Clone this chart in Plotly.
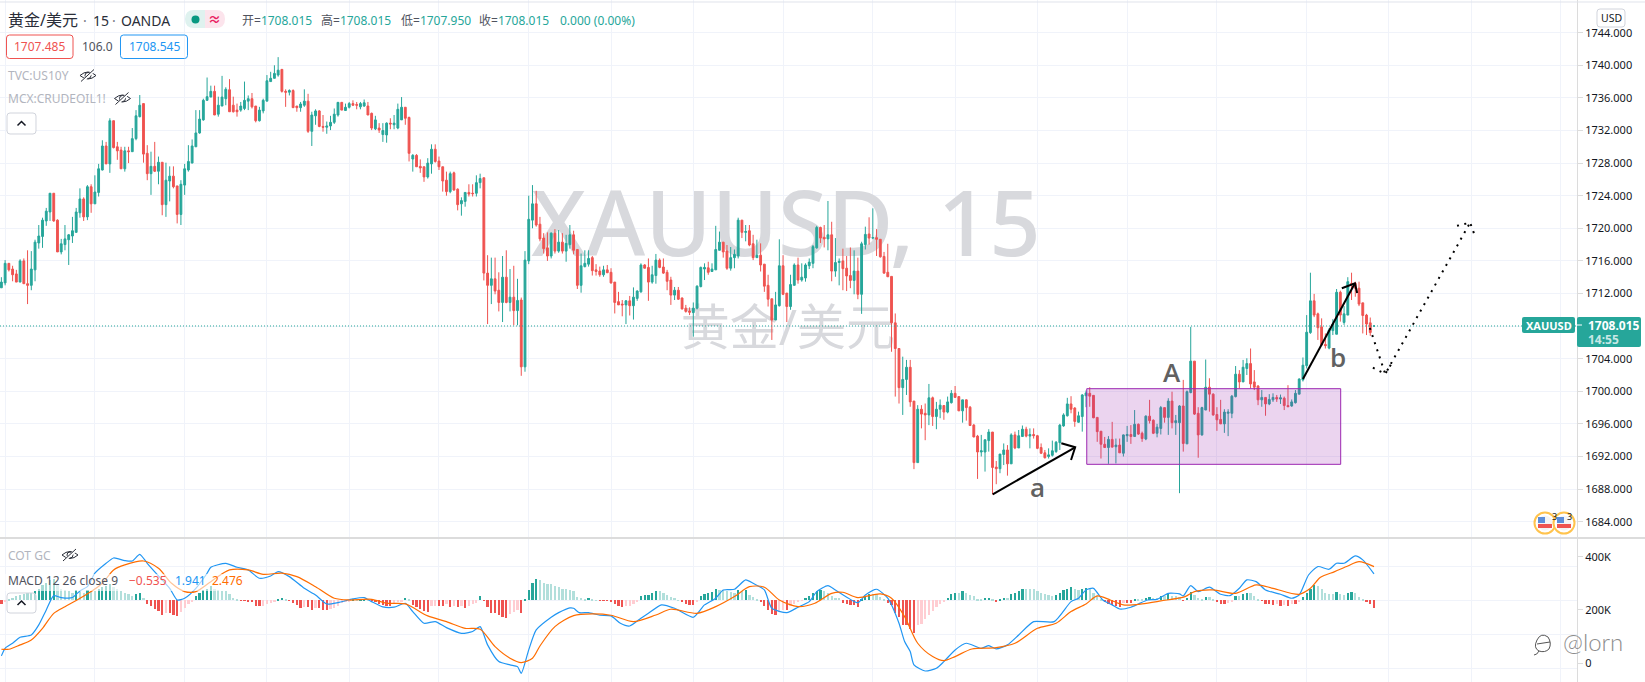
import plotly.graph_objects as go

W, H = 1645, 682
PANE_X = 1577
PANE_Y = 538

opens = [
1712.7,1713.3,1715.7,1715.0,1714.4,1713.4,1716.0,1713.2,1713.0,1714.9,
1718.2,1719.0,1720.9,1722.0,1724.3,1721.0,1717.1,1718.0,1718.6,1719.05,
1719.5,1721.9,1723.6,1721.4,1725.1,1723.0,1724.4,1727.15,1730.1,1727.9,
1733.2,1730.0,1729.6,1727.3,1729.5,1729.4,1731.0,1733.7,1735.3,1729.2,
1726.7,1727.6,1727.0,1728.1,1722.9,1725.8,1726.4,1725.2,1721.7,1725.3,
1727.15,1728.0,1730.0,1731.7,1733.3,1735.7,1736.1,1736.8,1734.0,1735.0,
1735.9,1737.0,1735.1,1734.5,1734.5,1734.7,1735.6,1735.9,1735.0,1733.2,
1734.4,1735.6,1738.0,1738.4,1738.8,1739.5,1736.8,1736.7,1736.9,1735.0,
1734.8,1735.1,1735.6,1731.9,1733.8,1734.4,1732.5,1732.4,1732.55,1733.0,
1733.9,1735.45,1734.45,1734.85,1735.3,1735.2,1734.9,1735.0,1735.0,1734.1,
1732.2,1732.3,1731.5,1731.45,1732.9,1732.7,1732.3,1733.3,1734.85,1733.6,
1728.5,1728.95,1727.6,1727.55,1726.3,1727.9,1729.7,1728.25,1727.55,1725.9,
1724.5,1726.8,1724.8,1723.0,1723.3,1724.4,1724.3,1724.3,1725.6,1726.2,
1714.5,1713.0,1713.8,1712.4,1710.9,1714.0,1710.9,1711.55,1709.9,1711.2,
1703.0,1716.0,1721.0,1723.0,1720.5,1718.8,1717.6,1716.6,1719.4,1717.2,
1718.3,1717.2,1718.0,1719.2,1717.4,1713.0,1715.3,1715.6,1716.4,1714.9,
1714.75,1714.3,1714.9,1714.6,1713.4,1711.0,1710.7,1710.6,1711.1,1710.5,
1711.4,1712.2,1715.5,1715.2,1713.4,1714.2,1716.1,1715.25,1714.6,1713.65,
1711.8,1712.4,1711.45,1710.2,1709.85,1709.65,1710.2,1712.85,1715.0,1715.15,
1714.7,1714.9,1717.3,1718.3,1717.2,1715.1,1716.4,1716.6,1721.0,1719.5,
1719.7,1718.1,1716.4,1716.7,1715.6,1713.0,1711.35,1708.75,1710.5,1715.4,
1712.05,1710.4,1713.0,1715.5,1713.65,1713.9,1715.4,1715.7,1717.6,1720.1,
1718.9,1718.7,1719.2,1714.75,1715.8,1716.0,1715.1,1714.2,1713.6,1714.75,
1711.9,1718.0,1719.3,1718.8,1718.85,1718.65,1716.55,1714.6,1714.1,1708.4,
1705.25,1700.45,1701.45,1702.95,1698.8,1691.25,1697.8,1697.3,1697.1,1699.2,
1696.9,1697.8,1698.25,1697.45,1698.6,1699.75,1699.35,1697.6,1698.95,1698.05,
1695.85,1694.5,1692.55,1692.55,1693.95,1695.0,1690.7,1690.5,1692.25,1692.8,
1691.1,1694.65,1693.05,1694.45,1695.35,1694.5,1694.7,1694.55,1693.1,1692.45,
1692.0,1692.15,1692.6,1693.7,1695.75,1697.0,1698.45,1697.95,1696.2,1696.9,
1699.45,1699.75,1699.5,1696.8,1695.1,1693.5,1693.1,1694.1,1693.2,1693.4,
1692.4,1694.55,1694.7,1694.45,1695.95,1694.85,1694.15,1696.95,1696.45,1694.85,
1695.45,1698.0,1696.8,1698.8,1696.15,1696.15,1698.2,1693.55,1699.85,1703.7,
1697.3,1694.65,1697.7,1700.5,1699.65,1697.15,1696.55,1696.0,1697.3,1697.3,
1699.35,1702.1,1701.15,1702.8,1703.4,1701.15,1700.65,1698.95,1699.25,1698.45,
1698.95,1699.25,1699.05,1699.15,1698.25,1698.2,1698.6,1699.65,1701.4,1703.15,
1707.2,1711.1,1709.5,1707.9,1705.75,1705.3,1707.45,1707.0,1712.15,1708.45,
1709.35,1713.25,1713.25,1712.65,1710.85,1709.35,1708.4,1708.015]
highs = [
1714.0,1716.1,1715.7,1715.4,1714.9,1716.2,1716.3,1717.3,1717.2,1718.6,
1720.4,1721.3,1722.5,1724.3,1724.3,1721.1,1718.7,1720.4,1719.3,1721.4,
1722.5,1724.9,1723.8,1725.3,1725.4,1726.5,1727.9,1730.8,1730.6,1733.5,
1733.2,1730.6,1730.0,1730.0,1730.0,1732.3,1734.5,1736.35,1735.3,1730.2,
1729.4,1730.6,1728.8,1728.1,1728.05,1727.6,1727.6,1725.2,1725.9,1727.9,
1730.2,1730.9,1734.5,1734.5,1735.9,1738.5,1737.5,1737.5,1736.15,1738.7,
1737.3,1738.3,1736.15,1735.3,1735.5,1738.0,1736.3,1736.6,1735.0,1734.9,
1735.9,1738.8,1739.2,1740.0,1741.0,1739.5,1737.05,1737.05,1737.05,1735.0,
1735.5,1737.05,1736.5,1734.3,1734.6,1734.5,1733.9,1733.1,1733.8,1734.7,
1735.5,1735.5,1735.3,1735.5,1735.7,1735.5,1735.5,1735.8,1735.5,1734.2,
1733.8,1732.9,1732.9,1733.0,1733.5,1733.9,1735.3,1736.1,1734.85,1733.7,
1729.1,1729.1,1728.45,1727.55,1728.6,1730.3,1730.3,1728.8,1727.55,1726.95,
1726.95,1726.95,1724.9,1723.8,1724.4,1725.4,1725.4,1726.5,1726.7,1726.2,
1716.7,1716.4,1716.4,1714.6,1716.6,1717.3,1715.0,1715.4,1713.8,1711.5,
1717.2,1724.0,1725.3,1724.6,1721.4,1719.4,1719.5,1719.5,1719.9,1719.8,
1719.4,1719.2,1720.4,1719.7,1717.4,1716.9,1717.3,1717.3,1716.6,1715.6,
1715.3,1715.4,1715.5,1715.1,1713.4,1712.2,1711.2,1711.2,1711.7,1712.75,
1712.4,1715.7,1715.6,1716.3,1715.4,1716.85,1716.3,1716.3,1714.9,1714.05,
1712.8,1712.8,1711.5,1710.6,1710.3,1710.9,1713.0,1715.3,1715.7,1715.9,
1715.7,1720.3,1719.6,1718.3,1717.95,1717.7,1717.4,1721.3,1721.0,1720.4,
1720.4,1719.2,1718.6,1718.15,1715.6,1714.3,1711.35,1712.2,1718.65,1716.7,
1712.05,1714.3,1715.7,1716.4,1715.7,1715.7,1716.3,1717.95,1720.3,1720.2,
1720.4,1723.35,1720.8,1718.8,1716.3,1717.5,1716.6,1717.65,1717.3,1716.4,
1718.35,1720.2,1721.35,1722.45,1719.9,1718.65,1717.1,1718.1,1714.1,1709.55,
1705.25,1704.25,1703.85,1703.85,1698.8,1698.3,1698.3,1698.5,1700.9,1699.35,
1698.7,1699.0,1698.3,1699.35,1700.15,1700.65,1699.35,1698.95,1699.0,1698.2,
1696.0,1694.65,1694.65,1694.1,1695.35,1695.0,1691.45,1692.3,1693.6,1693.4,
1694.85,1695.05,1695.25,1695.8,1695.65,1695.45,1695.45,1694.65,1693.6,1692.8,
1693.0,1693.95,1693.9,1696.0,1697.3,1699.2,1699.4,1698.05,1697.5,1699.65,
1700.1,1700.5,1699.5,1696.8,1695.1,1694.4,1694.5,1696.25,1694.2,1694.2,
1694.7,1695.75,1695.85,1697.7,1696.05,1695.05,1697.05,1698.95,1696.55,1696.0,
1698.2,1698.0,1699.15,1699.95,1697.1,1698.3,1701.4,1700.1,1707.9,1703.7,
1698.05,1698.1,1703.9,1701.6,1699.75,1698.05,1698.95,1697.8,1697.8,1699.55,
1703.1,1702.6,1703.85,1704.05,1705.25,1702.6,1700.75,1700.15,1699.25,1699.65,
1699.75,1699.55,1699.6,1699.35,1700.75,1699.0,1700.15,1701.6,1704.15,1709.35,
1714.55,1711.95,1709.65,1708.95,1707.1,1707.75,1708.85,1712.55,1712.35,1710.45,
1714.0,1714.55,1713.45,1713.45,1710.85,1709.5,1709.05,1708.015]
lows = [
1712.7,1713.0,1714.7,1713.5,1713.4,1713.4,1713.2,1710.7,1712.4,1713.5,
1717.5,1717.6,1720.3,1720.9,1720.8,1717.1,1716.8,1717.3,1715.5,1718.2,
1719.5,1721.3,1720.9,1721.0,1721.9,1723.0,1723.9,1727.1,1727.9,1726.8,
1729.8,1728.4,1727.3,1726.95,1728.0,1729.4,1730.8,1733.6,1728.05,1725.9,
1724.1,1726.9,1725.4,1721.6,1721.4,1723.3,1724.9,1720.6,1720.4,1724.1,
1726.95,1728.0,1730.0,1731.6,1733.2,1735.65,1736.1,1733.9,1733.7,1735.0,
1735.1,1734.3,1734.2,1733.7,1734.3,1734.5,1734.5,1734.7,1733.0,1733.1,
1734.1,1735.6,1738.0,1738.4,1738.6,1736.65,1734.9,1736.3,1734.8,1734.3,
1734.3,1734.9,1731.7,1730.1,1732.7,1732.4,1731.85,1731.6,1732.05,1732.8,
1733.7,1734.5,1734.45,1734.7,1735.0,1734.6,1734.6,1734.9,1733.9,1732.05,
1732.05,1731.7,1730.6,1730.5,1732.15,1732.15,1732.15,1733.3,1732.7,1728.2,
1726.95,1727.55,1726.8,1725.7,1726.1,1726.7,1728.05,1727.15,1724.5,1724.0,
1724.3,1724.6,1722.2,1721.55,1722.65,1723.9,1723.9,1723.9,1724.9,1713.6,
1708.25,1710.7,1711.9,1709.8,1708.5,1710.8,1709.8,1708.1,1708.1,1701.9,
1702.4,1715.6,1720.0,1720.2,1718.4,1716.9,1716.0,1716.3,1716.9,1717.0,
1716.9,1715.9,1717.5,1716.8,1712.55,1712.1,1715.2,1715.3,1714.2,1714.2,
1714.05,1714.05,1714.5,1713.2,1709.55,1710.6,1709.2,1708.25,1709.3,1708.8,
1711.1,1712.1,1715.1,1711.1,1713.2,1713.2,1715.1,1714.4,1712.4,1710.6,
1711.2,1711.2,1710.05,1709.65,1709.35,1706.7,1710.05,1712.75,1713.65,1714.3,
1714.7,1714.9,1717.3,1716.4,1714.9,1714.8,1715.1,1716.3,1718.8,1718.4,
1717.8,1716.1,1716.4,1714.7,1712.2,1710.4,1706.3,1708.75,1710.4,1711.8,
1708.5,1710.0,1713.0,1713.2,1713.45,1713.45,1715.0,1715.1,1717.5,1718.2,
1717.65,1717.3,1713.5,1714.05,1713.0,1712.4,1712.3,1712.65,1711.9,1711.3,
1709.5,1717.4,1718.0,1718.65,1716.6,1716.4,1714.4,1714.05,1704.85,1699.35,
1698.5,1697.1,1699.55,1698.1,1690.45,1691.25,1695.45,1694.0,1695.85,1695.75,
1695.35,1696.7,1696.5,1697.3,1698.5,1699.25,1697.6,1696.15,1696.4,1695.75,
1694.35,1689.25,1692.0,1690.15,1692.6,1687.35,1688.6,1689.95,1690.95,1689.65,
1691.1,1692.9,1693.05,1694.45,1694.35,1693.0,1694.2,1692.9,1692.3,1691.75,
1691.75,1692.0,1692.45,1692.8,1695.65,1696.9,1697.3,1695.65,1696.15,1695.05,
1698.05,1698.1,1696.7,1693.8,1691.75,1693.1,1691.1,1693.1,1691.15,1692.45,
1692.0,1693.8,1693.55,1694.45,1694.65,1693.8,1694.0,1696.05,1694.75,1694.35,
1694.7,1696.15,1694.65,1695.45,1694.65,1687.5,1692.6,1693.55,1699.75,1697.1,
1691.85,1694.55,1697.7,1697.5,1697.0,1695.15,1696.0,1694.9,1694.5,1696.7,
1699.25,1700.35,1701.15,1702.0,1700.35,1700.15,1698.3,1698.1,1697.0,1698.3,
1698.7,1698.7,1698.45,1697.7,1698.1,1698.1,1698.5,1699.65,1701.2,1702.8,
1707.05,1709.1,1706.3,1705.6,1705.25,1705.15,1706.9,1707.0,1708.55,1708.15,
1709.35,1711.2,1711.6,1710.45,1707.1,1706.9,1706.8,1707.95]
closes = [
1713.4,1715.7,1714.9,1714.3,1713.4,1716.0,1713.2,1713.0,1715.0,1718.3,
1719.05,1721.0,1722.1,1724.3,1720.9,1717.1,1718.1,1718.7,1719.2,1719.7,
1722.0,1723.6,1721.4,1725.1,1723.0,1724.45,1727.3,1730.1,1727.9,1733.2,
1729.9,1729.5,1727.3,1729.5,1729.4,1731.0,1733.8,1735.1,1729.1,1726.7,
1727.6,1727.0,1728.1,1722.9,1725.9,1726.4,1725.1,1721.7,1725.4,1727.3,
1728.2,1730.1,1731.7,1733.4,1735.7,1736.15,1736.8,1733.9,1735.1,1736.1,
1737.05,1734.3,1734.3,1734.3,1735.0,1735.7,1735.9,1734.9,1733.2,1734.5,
1735.7,1738.1,1738.4,1739.0,1739.4,1736.8,1736.7,1736.9,1734.8,1734.8,
1735.25,1735.6,1731.9,1733.9,1734.4,1732.5,1732.4,1732.55,1733.0,1734.0,
1735.45,1734.5,1734.85,1735.3,1735.1,1735.1,1735.3,1735.4,1733.9,1732.3,
1733.3,1732.05,1732.0,1732.9,1732.8,1732.9,1734.6,1734.85,1733.5,1729.2,
1728.95,1727.55,1727.4,1726.3,1728.0,1729.7,1728.2,1727.55,1725.8,1724.5,
1726.7,1724.7,1722.9,1723.4,1724.4,1724.2,1724.25,1725.6,1726.1,1714.5,
1713.0,1713.8,1712.3,1710.9,1714.0,1710.9,1711.55,1709.9,1711.15,1703.0,
1716.1,1721.1,1723.0,1720.4,1718.7,1717.5,1716.6,1719.4,1717.2,1718.3,
1717.2,1718.15,1719.2,1717.3,1713.0,1715.4,1715.7,1716.3,1714.8,1714.7,
1714.3,1714.9,1714.55,1713.3,1710.9,1710.6,1710.6,1711.1,1710.5,1711.55,
1712.3,1715.5,1715.1,1713.4,1714.3,1716.1,1715.2,1714.5,1713.5,1711.8,
1712.4,1711.3,1710.1,1709.8,1709.7,1710.2,1712.9,1715.2,1715.2,1714.6,
1715.0,1717.4,1718.3,1717.1,1715.1,1716.4,1716.8,1721.0,1719.5,1719.6,
1717.95,1716.4,1716.7,1715.5,1712.9,1711.3,1708.75,1710.6,1715.4,1711.9,
1710.4,1713.1,1715.5,1713.65,1714.0,1715.5,1715.85,1717.75,1720.1,1718.8,
1718.7,1719.2,1714.75,1715.8,1715.95,1715.05,1714.15,1713.6,1714.75,1711.9,
1718.1,1719.25,1718.8,1718.85,1718.65,1716.5,1714.5,1714.05,1708.4,1705.25,
1700.45,1701.45,1702.95,1698.7,1691.25,1697.8,1697.2,1697.1,1699.2,1696.9,
1697.8,1698.3,1697.45,1698.7,1699.75,1699.25,1697.6,1698.95,1698.0,1695.8,
1694.4,1692.55,1692.7,1694.05,1695.0,1690.65,1690.5,1692.3,1692.8,1691.1,
1694.65,1693.05,1694.55,1695.35,1694.5,1694.7,1694.55,1693.0,1692.4,1691.85,
1692.2,1692.7,1693.75,1695.85,1697.1,1698.45,1697.8,1696.3,1697.0,1699.55,
1699.8,1699.4,1696.75,1695.05,1693.5,1693.1,1694.1,1693.15,1693.4,1692.45,
1694.65,1694.7,1694.45,1695.95,1694.75,1694.2,1696.95,1696.4,1694.85,1695.6,
1698.0,1696.8,1698.8,1696.15,1696.4,1698.2,1693.6,1699.95,1703.7,1697.2,
1694.65,1698.0,1700.5,1699.65,1697.1,1696.5,1696.0,1697.45,1697.45,1699.4,
1702.1,1701.15,1702.95,1703.4,1700.9,1700.5,1698.95,1699.25,1698.45,1699.0,
1699.25,1699.05,1699.2,1698.25,1698.1,1698.7,1699.75,1701.5,1703.2,1707.25,
1711.1,1709.35,1707.8,1705.7,1705.6,1707.5,1708.25,1712.15,1709.35,1709.5,
1713.45,1713.15,1712.65,1710.7,1709.3,1708.25,1707.2,1708.015]

macd_hist = [
-.3,-.15,.1,.2,.3,.4,.45,.5,.55,.7,
.85,1.1,1.25,1.5,1.6,1.2,.85,.75,.65,.55,
.75,.6,.55,.75,.7,.7,.85,1.0,1.05,1.2,
.95,.85,.7,.55,.45,.35,.45,.55,.15,-.3,
-.45,-.65,-.8,-1.05,-.95,-.95,-1.05,-1.15,-.85,-.55,
-.3,-.1,.3,.5,.75,.85,1.05,.8,.75,.7,
.65,.45,.2,.05,-.05,-.05,-.08,-.15,-.4,-.45,
-.4,-.3,-.2,-.1,.1,.2,.05,-.05,-.2,-.35,
-.55,-.5,-.5,-.75,-.55,-.55,-.7,-.7,-.65,-.6,
-.4,-.2,-.1,-.08,.05,.05,.1,.12,.08,-.05,
-.1,-.25,-.35,-.4,-.4,-.3,-.15,-.1,.15,.1,
-.35,-.5,-.65,-.8,-.85,-.45,-.4,-.4,-.4,-.3,
-.5,-.45,-.5,-.45,-.55,-.4,-.3,-.2,.3,-.05,
-.5,-.9,-.9,-1.05,-1.2,-1.3,-1.0,-.85,-.7,-.9,
.1,.75,1.3,1.55,1.47,1.3,1.22,1.22,1.05,.95,
.85,.85,.75,.65,.25,.2,.12,.2,.08,.02,
-.05,-.05,-.05,-.12,-.3,-.4,-.5,-.45,-.4,-.3,
-.15,.28,.4,.42,.5,.65,.65,.55,.4,.25,
.15,.02,-.12,-.25,-.35,-.35,-.15,.3,.45,.5,
.6,.8,.75,.75,.7,.6,.55,.75,.7,.75,
.4,.25,.1,-.1,-.45,-.75,-1.0,-1.1,-.85,-.7,
-.75,-.4,-.25,-.12,-.02,.2,.3,.5,.7,.75,
.7,.5,.35,.2,.15,-.2,-.3,-.35,-.35,-.5,
.12,.35,.45,.45,.45,.25,.1,-.2,-.35,-.95,
-1.2,-1.85,-1.85,-2.1,-2.4,-1.85,-1.75,-1.35,-1.05,-.8,
-.5,-.3,-.1,.2,.45,.55,.55,.65,.55,.4,
.3,.1,.05,.18,.2,.05,-.08,.05,.2,.2,
.45,.55,.7,.8,.8,.8,.8,.65,.55,.45,
.4,.35,.4,.55,.75,.85,1.0,.8,.75,.85,
.9,.85,.55,.3,.1,-.1,-.3,-.35,-.4,-.5,
-.2,-.2,-.2,.03,.03,.03,.2,.25,.2,.15,
.35,.3,.45,.35,.3,.25,-.05,.2,.6,.4,
.15,.05,.25,.25,.05,-.1,-.25,-.25,-.2,-.15,
.3,.3,.45,.55,.5,.3,.1,-.05,-.25,-.3,
-.35,-.3,-.4,-.35,-.4,-.3,-.3,-.1,.25,.5,
.8,1.15,1.05,.85,.55,.45,.45,.6,.45,.4,
.55,.6,.5,.25,.1,-.1,-.3,-.535]

macd_bars = [0,1,3,5,8,10,12,14,16,19,21,23,25,28,30,33,35,37,39,42,45,47,49,52,55,56,60,63,66,69,72,74,77,81,84,87,90,94,97,99,102,105,108,110,113,116,119,123,126,128,130,133,136,138,139,141,143,
147,149,152,153,154.5,157,160,163,165.5,168,171,173,176.5,180,185,188,191,193,196,199,201,204,206,210,213,216,218,221,223,229,231,234,237,240,241.5,243,244,247,250,252,255,258,262,264,266,269,272,276,281.5,286,288,
290,292,294.5,297,299,302,304,306.5,309,312,315,316,318,320,323,326,328.5,331,333,335.5,338,342,345,347,349.5,352,355,357,359,362,364,367]
macd_line = [-4.09,-3.53,-3.16,-2.72,-2.55,-1.81,-.71,.34,.2,.2,.69,1.0,1.99,2.72,3.11,2.92,2.89,3.38,2.72,1.79,.88,.02,.15,.88,1.99,2.43,2.72,2.43,2.23,1.62,1.79,2.11,1.74,.88,.39,-.27,-.17,.1,.2,-.1,-.49,-.51,-.22,-.83,-1.69,-1.57,-2.01,-2.43,-2.3,-1.94,-3.28,-4.51,-4.75,-4.88,-5.37,-3.65,-2.18,
-1.25,-.91,-.56,-.59,-.91,-.91,-1.1,-1.15,-1.69,-1.89,-1.32,-.96,-.34,-.59,-1.25,-.34,.15,.76,.81,1.5,1.25,.76,-.59,-.91,-.51,-.1,.64,1.08,.76,-.17,.39,.81,.15,-1.69,-3.04,-3.77,-4.75,-5.2,-5.0,-4.51,-3.65,-3.16,-3.53,-3.33,-3.58,-3.28,-2.55,-1.57,-1.57,-.1,.15,
.76,.88,.02,-.34,-.64,-.51,-.27,.02,.07,.51,.47,.32,1.08,.64,.96,.44,.34,.88,1.5,1.37,.76,.44,.15,.39,1.86,2.48,2.28,2.72,2.72,3.26,2.97,1.941]
signal_bars = [0,2,5,8,11,14,17,20,24,27,30,33,38,42,45.5,49,52,56,61,66,70,75,79,84,89,93,99,103,108,114,119,124,128,132,136,139,142,
144,148,153,158,163,169,175,179,186,191,196,200,204,208,213,217.5,222,225,229,235,238,241.5,245,249,252,255,259.5,266,271,277,282,286,
290,293,296.5,300,305,310,316.5,319,324,330,335.5,340,347,350,352.7,356.5,360,363,367]
signal_line = [-3.6,-3.6,-3.28,-2.92,-2.06,-.96,-.47,-.02,.64,1.25,2.23,2.6,2.89,2.35,1.25,.64,.64,1.37,2.23,2.23,1.91,1.99,1.74,1.0,.15,.02,.07,-.22,-.27,-1.15,-1.57,-2.06,-2.13,-3.41,-4.26,-4.58,-4.26,
-3.36,-1.94,-1.13,-1.0,-1.1,-1.57,-1.08,-.66,-.96,-.47,.27,1.0,.96,.02,-.47,-.22,.51,.59,.2,.47,.15,-1.2,-3.16,-4.14,-4.44,-4.14,-3.58,-3.48,-3.16,-2.06,-1.69,-.83,
-.27,.32,.02,-.34,-.27,-.05,.27,.64,.76,.51,1.13,.88,.44,.88,1.69,2.11,2.52,2.84,2.476]

price_ticks = [1684,1688,1692,1696,1700,1704,1708,1712,1716,1720,1724,1728,1732,1736,1740,1744]
cot_ticks = [0,200000,400000]
cot_labels = ["0","200K","400K"]
macd_grid = [-5,-2.5,0,2.5]
time_grid = [1,25,49,71,93,117,141,163,185,209,233,255,277,301,325,349,371,393,417]
last_price = 1708.015

zone_bars = [290.2,358.1]
zone_prices = [1691.04,1700.32]
arrow_a_bars = [265.05,287.1]
arrow_a_prices = [1687.36,1693.13]
arrow_a_head_bars = [283.4,287.1,286.0]
arrow_a_head_prices = [1693.62,1693.13,1691.57]
arrow_b_bars = [348.0,361.9]
arrow_b_prices = [1701.51,1713.25]
arrow_b_head_bars = [358.4,361.9,362.5]
arrow_b_head_prices = [1712.64,1713.25,1712.06]
path_bars = [365.9,370.0,392.7]
path_prices = [1707.77,1702.13,1720.69]
path_head1_bars = [366.7,370.0,371.7]
path_head1_prices = [1702.9,1702.13,1703.4]
path_head2_bars = [389.2,392.7,394.0]
path_head2_prices = [1720.3,1720.69,1719.05]

UP, DOWN = "#26a69a", "#ef5350"
UP_L, DOWN_L = "#b2dfdb", "#ffcdd2"
GRID = "#f0f3fa"
SEP = "#dcdcdc"
TOPLINE = "#e0e3eb"
TXT = "#131722"
FONT = "Noto Sans, Noto Sans CJK SC, sans-serif"

N = len(closes)
bars = list(range(N))
X_RANGE = [-0.37, 421.28]
Y_RANGE = [1682.0, 1748.01]

hist_colors = []
for i, v in enumerate(macd_hist):
    prev = macd_hist[i - 1] if i else 0
    if v >= 0:
        hist_colors.append(UP if v > prev else UP_L)
    else:
        hist_colors.append(DOWN_L if v > prev else DOWN)

fig = go.Figure()

# watermark sits on the base subplot so candles draw over it
fig.add_trace(go.Scatter(x=[209.8, 210.3], y=[1719.3, 1707.15], mode="text",
    text=["XAUUSD, 15", "黄金/美元"], textposition="middle center",
    textfont=dict(size=[90, 49], color="#d8d9dd", family=FONT, weight=[500, 400]),
    xaxis="x", yaxis="y", hoverinfo="skip", showlegend=False))

fig.add_trace(go.Candlestick(x=bars, open=opens, high=highs, low=lows, close=closes,
    xaxis="x2", yaxis="y2", showlegend=False, whiskerwidth=0,
    increasing=dict(line=dict(color=UP, width=1), fillcolor=UP),
    decreasing=dict(line=dict(color=DOWN, width=1), fillcolor=DOWN)))

fig.add_trace(go.Scatter(x=X_RANGE, y=[last_price, last_price], mode="lines",
    line=dict(color=UP, width=1, dash="1px,2px"), xaxis="x2", yaxis="y2",
    hoverinfo="skip", showlegend=False))

def draw(xs, ys, dash="solid"):
    fig.add_trace(go.Scatter(x=xs, y=ys, mode="lines", xaxis="x2", yaxis="y2",
        line=dict(color="#000000", width=2, dash=dash), hoverinfo="skip", showlegend=False))

draw(arrow_a_bars, arrow_a_prices)
draw(arrow_a_head_bars, arrow_a_head_prices)
draw(arrow_b_bars, arrow_b_prices)
draw(arrow_b_head_bars, arrow_b_head_prices)
DOTS = "2px,5.5px"
draw(path_bars, path_prices, DOTS)
draw(path_head1_bars, path_head1_prices, DOTS)
draw(path_head2_bars, path_head2_prices, DOTS)

fig.add_trace(go.Bar(x=bars, y=macd_hist, marker=dict(color=hist_colors, line=dict(width=0)),
    width=0.6, xaxis="x3", yaxis="y3", showlegend=False))
fig.add_trace(go.Scatter(x=macd_bars, y=macd_line, mode="lines",
    line=dict(color="#2196f3", width=1.2, shape="spline", smoothing=0.6),
    xaxis="x3", yaxis="y3", showlegend=False))
fig.add_trace(go.Scatter(x=signal_bars, y=signal_line, mode="lines",
    line=dict(color="#ff6d00", width=1.2, shape="spline", smoothing=0.8),
    xaxis="x3", yaxis="y3", showlegend=False))
fig.add_trace(go.Scatter(x=[0], y=[0], mode="markers", marker=dict(opacity=0), xaxis="x3", yaxis="y4",
    hoverinfo="skip", showlegend=False))

def xp(px):
    return px / W

def yp(py):
    return 1 - py / H

shapes = []
annots = []

def rect(x0, y0, x1, y1, fill=None, line=None, lw=1, r=0):
    xs = lambda v: f"{xp(v):.5f}"
    ys = lambda v: f"{yp(v):.5f}"
    if r:
        d = (f"M {xs(x0+r)} {ys(y0)} L {xs(x1-r)} {ys(y0)} Q {xs(x1)} {ys(y0)} {xs(x1)} {ys(y0+r)} "
             f"L {xs(x1)} {ys(y1-r)} Q {xs(x1)} {ys(y1)} {xs(x1-r)} {ys(y1)} "
             f"L {xs(x0+r)} {ys(y1)} Q {xs(x0)} {ys(y1)} {xs(x0)} {ys(y1-r)} "
             f"L {xs(x0)} {ys(y0+r)} Q {xs(x0)} {ys(y0)} {xs(x0+r)} {ys(y0)} Z")
        shapes.append(dict(type="path", path=d, xref="paper", yref="paper",
                           fillcolor=fill or "rgba(0,0,0,0)",
                           line=dict(color=line or "rgba(0,0,0,0)", width=lw)))
    else:
        shapes.append(dict(type="rect", xref="paper", yref="paper", x0=xp(x0), x1=xp(x1), y0=yp(y0), y1=yp(y1),
                           fillcolor=fill or "rgba(0,0,0,0)",
                           line=dict(color=line or "rgba(0,0,0,0)", width=lw)))

def path_px(points, color, lw=1, fill=None):
    parts = []
    for p in points:
        if isinstance(p, str):
            parts.append(p)
        else:
            parts.append(f"{xp(p[0]):.5f} {yp(p[1]):.5f}")
    shapes.append(dict(type="path", path=" ".join(parts), xref="paper", yref="paper",
                       line=dict(color=color, width=lw), fillcolor=fill or "rgba(0,0,0,0)"))

def circle(cx, cy, r, fill=None, line=None, lw=1):
    shapes.append(dict(type="circle", xref="paper", yref="paper", x0=xp(cx-r), x1=xp(cx+r), y0=yp(cy-r), y1=yp(cy+r),
                       fillcolor=fill or "rgba(0,0,0,0)", line=dict(color=line or "rgba(0,0,0,0)", width=lw)))

def label(px, py, text, size=12, color=TXT, anchor="left", weight=None, family=FONT):
    f = dict(size=size, color=color, family=family)
    if weight:
        f["weight"] = weight
    annots.append(dict(x=xp(px), y=yp(py), xref="paper", yref="paper", text=text, showarrow=False,
                       xanchor=anchor, yanchor="middle", font=f, borderpad=0))

def eye(cx, cy):
    path_px(["M", (cx-8, cy), "Q", (cx, cy-7), (cx+8, cy), "Q", (cx, cy+7), (cx-8, cy), "Z"], "#2a2e39", 1)
    path_px(["M", (cx-3, cy), "Q", (cx-3, cy-3), (cx, cy-3), "Q", (cx+3, cy-3), (cx+3, cy), "Q", (cx+3, cy+3), (cx, cy+3),
             "Q", (cx-3, cy+3), (cx-3, cy), "Z"], "#2a2e39", 1)
    path_px(["M", (cx-6, cy+6), "L", (cx+7, cy-6)], "#ffffff", 2.5)
    path_px(["M", (cx-7, cy+6), "L", (cx+6, cy-6)], "#2a2e39", 1)

def chevron_button(x0, y0, x1, y1, fill):
    rect(x0, y0, x1, y1, fill=fill, line="#d1d4dc", r=3)
    cx, cy = (x0+x1)/2, (y0+y1)/2
    path_px(["M", (cx-4, cy+2), "L", (cx, cy-2), "L", (cx+4, cy+2)], TXT, 1.5)

# purple zone drawn in data coordinates, above the candles
shapes.append(dict(type="rect", xref="x2", yref="y2", x0=zone_bars[0], x1=zone_bars[1],
                   y0=zone_prices[0], y1=zone_prices[1],
                   fillcolor="rgba(156,39,176,0.2)", line=dict(color="#9c27b0", width=1)))

# frame lines
path_px(["M", (0, 2), "L", (W, 2)], TOPLINE, 1)
path_px(["M", (0, PANE_Y), "L", (W, PANE_Y)], SEP, 2)

# header
label(7, 20.5, "黄金/美元", 16, "#2a2e39")
label(85, 20.5, "·", 14, "#787b86", "center")
label(92, 20.5, "15", 14, "#2a2e39")
label(114, 20.5, "·", 14, "#787b86", "center")
label(120, 20.5, "OANDA", 14, "#2a2e39")
path_px(["M", (205, 10), "L", (194, 10), "Q", (185, 10), (185, 19), "Q", (185, 28), (194, 28), "L", (205, 28), "Z"],
        "rgba(0,0,0,0)", 0, "#dff2ef")
path_px(["M", (205, 10), "L", (216, 10), "Q", (225, 10), (225, 19), "Q", (225, 28), (216, 28), "L", (205, 28), "Z"],
        "rgba(0,0,0,0)", 0, "#fce4ec")
circle(195.5, 19.5, 4, fill="#089981")
label(214, 19.5, "≈", 13, "#e91e63", "center", 700)
HEAD = [(241, "开=", "1708.015"), (320, "高=", "1708.015"), (400, "低=", "1707.950"), (478, "收=", "1708.015")]
for hx, ht, hv in HEAD:
    label(hx, 20.5, f'<span style="color:#50535e">{ht}</span><span style="color:{UP}">{hv}</span>', 12)
label(559, 20.5, "0.000 (0.00%)", 12, UP)

rect(6.5, 35, 73, 58.5, line=DOWN, lw=1, r=3)
label(39.7, 47, "1707.485", 12, DOWN, "center")
label(97, 47, "106.0", 12, "#50535e", "center")
rect(120.5, 35, 187.5, 58.5, line="#2196f3", lw=1, r=3)
label(154, 47, "1708.545", 12, "#2196f3", "center")
label(7, 75.5, "TVC:US10Y", 12, "#b2b5be")
eye(88, 75.5)
label(7, 99, "MCX:CRUDEOIL1!", 12, "#b2b5be")
eye(122.5, 98.5)
chevron_button(7, 113, 36, 134, "#ffffff")

# lower pane legend
label(7, 555, "COT GC", 12, "#b2b5be")
eye(70, 555)
rect(5, 574, 245, 591, fill="rgba(255,255,255,0.6)")
label(7, 580, "MACD 12 26 close 9", 12, "#50535e")
label(127.5, 580, "−0.535", 12, DOWN)
label(174, 580, "1.941", 12, "#2196f3")
label(211, 580, "2.476", 12, "#ff6d00")
chevron_button(7, 593, 36, 613, "rgba(255,255,255,0.6)")

# drawing labels
for tx, ty, tt in [(277, 1688.2, "a"), (357.4, 1704.15, "b"), (312.9, 1702.4, "A")]:
    annots.append(dict(x=tx, y=ty, xref="x2", yref="y2", text=tt, showarrow=False, xanchor="center", yanchor="middle",
                       font=dict(size=26, color="#616161", family="Open Sans", weight=600)))

# price scale tags
rect(1522, 317, 1575, 333, fill=UP, r=2)
label(1548.5, 325, "XAUUSD", 11, "#ffffff", "center", 700)
rect(1577, 317, 1641, 347, fill=UP, r=2)
path_px(["M", (1577, 325), "L", (1582, 325)], "#ffffff", 1)
label(1586.5, 325.5, "1708.015", 12, "#ffffff", "left", 700)
label(1586.5, 339, "14:55", 12, "rgba(255,255,255,0.75)", "left", 700)
rect(1597, 9, 1625, 27, fill="#ffffff", line="#d1d4dc", r=3)
label(1611, 18, "USD", 10.5, "#131722", "center")

# event flags near the bottom of the price scale
for fx in (1545, 1564):
    circle(fx, 523, 10.5, fill="#ffffff", line="#ffc34d", lw=2)
    circle(fx, 523, 7.5, fill="#f4f4f4")
    rect(fx-7, 524, fx+7, 528, fill=DOWN)
    rect(fx-7, 517, fx, 523, fill="#5b8dd9")
label(1554.6, 516, "3", 9, "#131722", "center")
label(1569.6, 516, "3", 9, "#131722", "center")

# account watermark
path_px(["M", (1548, 637), "Q", (1541, 632), (1537, 640), "Q", (1533, 648), (1539, 651), "Q", (1537, 655), (1534, 655)], "#555555", 1)
path_px(["M", (1548, 637), "Q", (1552, 643), (1549, 649), "Q", (1545, 653), (1539, 651)], "#555555", 1)
path_px(["M", (1537, 644), "L", (1550, 642)], "#555555", 1)
label(1562, 641, "@lorn", 24, "#8c8c8c", "left", 300, "Lato")

axis_common = dict(range=X_RANGE, domain=[0, PANE_X / W], showticklabels=False, ticks="",
                   zeroline=False, fixedrange=True)
fig.update_layout(
    width=W, height=H, margin=dict(l=0, r=0, t=0, b=0), paper_bgcolor="#ffffff", plot_bgcolor="#ffffff",
    showlegend=False, bargap=0, boxgap=0.3, boxgroupgap=0.3, barmode="overlay",
    font=dict(family=FONT, color=TXT, size=11),
    xaxis=dict(axis_common, anchor="y", tickmode="array", tickvals=time_grid, showgrid=True, gridcolor=GRID, gridwidth=1,
               rangeslider=dict(visible=False)),
    xaxis2=dict(axis_common, anchor="y2", overlaying="x", showgrid=False, rangeslider=dict(visible=False), visible=False),
    xaxis3=dict(axis_common, anchor="y3", tickmode="array", tickvals=time_grid, showgrid=True, gridcolor=GRID, gridwidth=1),
    yaxis=dict(domain=[1 - PANE_Y / H, 1], range=Y_RANGE, side="right", anchor="x", tickmode="array", tickvals=price_ticks,
               ticktext=["" if p == 1708 else f"{p:.3f}" for p in price_ticks], showgrid=True, gridcolor=GRID,
               ticks="outside", ticklen=5, tickcolor=SEP, showline=True, linecolor=SEP, zeroline=False, fixedrange=True,
               tickfont=dict(size=11, color=TXT, family=FONT)),
    yaxis2=dict(domain=[1 - PANE_Y / H, 1], range=Y_RANGE, overlaying="y", anchor="x2", side="right", visible=False, fixedrange=True),
    yaxis3=dict(domain=[0, 1 - PANE_Y / H], range=[-6.01, 4.58], anchor="x3", side="left", tickmode="array", tickvals=macd_grid,
                showticklabels=False, ticks="", showgrid=True, gridcolor=GRID, zeroline=False, fixedrange=True),
    yaxis4=dict(domain=[0, 1 - PANE_Y / H], range=[-71400, 470300], overlaying="y3", anchor="x3", side="right", tickmode="array",
                tickvals=cot_ticks, ticktext=cot_labels, showgrid=False, ticks="outside", ticklen=5, tickcolor=SEP,
                showline=True, linecolor=SEP, zeroline=False, fixedrange=True, tickfont=dict(size=11, color=TXT, family=FONT)),
    shapes=shapes, annotations=annots,
)

fig.write_html("out.html", config=dict(displayModeBar=False),
               post_script="document.body.style.margin='0';document.body.style.overflow='hidden';")
